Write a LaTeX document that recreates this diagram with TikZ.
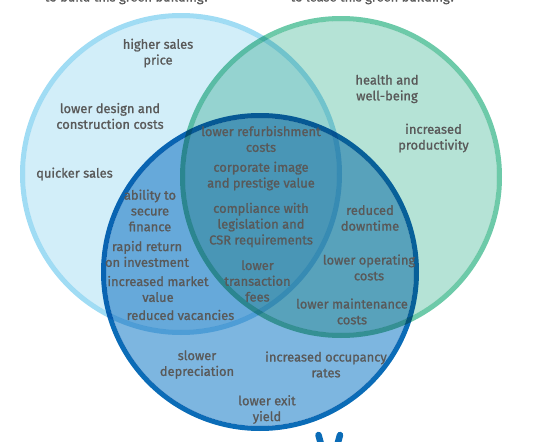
\documentclass[tikz,border=0pt]{standalone}
\usepackage{fontspec}
\newfontfamily\lbl{Fira Sans}[FakeBold=1.1]
\definecolor{lbfill}{HTML}{D2EEF9}
\definecolor{lbline}{HTML}{A0DCF4}
\definecolor{gfill}{HTML}{B5E3D6}
\definecolor{gline}{HTML}{6DCAA9}
\definecolor{dbfill}{HTML}{7DB6E0}
\definecolor{dbline}{HTML}{0B6CB7}
\definecolor{txtgray}{HTML}{595959}
\begin{document}
\begin{tikzpicture}[x=1pt,y=-1pt,
  lbl/.style={font=\lbl\fontsize{12.9}{15.8}\selectfont, text=txtgray, align=center, inner sep=0pt},
  ring/.style={line width=5pt}]
\useasboundingbox (0,0) rectangle (542,442);
\begin{scope}[blend group=multiply]
  \fill[lbfill] (181,174) circle [radius=156pt];
  \draw[lbline, ring] (181,174) circle [radius=158.5pt];
  \fill[gfill] (341,177) circle [radius=156pt];
  \draw[gline, ring] (341,177) circle [radius=158.5pt];
  \fill[dbfill] (260,272) circle [radius=154pt];
  \draw[dbline, ring] (260,272) circle [radius=156.5pt];
\end{scope}
\node[lbl, anchor=base] (tb) at (127,1.5) {to build this green building?};
\node[lbl, anchor=base] (tl) at (373,1.5) {to lease this green building?};
\node[lbl] (hsp) at (158,53) {higher sales\\price};
\node[lbl] (ldc) at (110,116) {lower design and\\construction costs};
\node[lbl] (qs) at (74.5,174) {quicker sales};
\node[lbl] (asf) at (150,210.5) {ability to\\secure\\finance};
\node[lbl] (rri) at (147,254) {rapid return\\on investment};
\node[lbl] (imv) at (158,289) {increased market\\value};
\node[lbl] (rv) at (180.5,315) {reduced vacancies};
\node[lbl] (lrc) at (261,139) {lower refurbishment\\costs};
\node[lbl] (cip) at (261,176) {corporate image\\and prestige value};
\node[lbl] (clc) at (261,225) {compliance with\\legislation and\\CSR requirements};
\node[lbl] (ltf) at (257.5,281) {lower\\transaction\\fees};
\node[lbl] (hwb) at (387,89) {health and\\well-being};
\node[lbl] (ip) at (433.5,138) {increased\\productivity};
\node[lbl] (rd) at (370,218) {reduced\\downtime};
\node[lbl] (loc) at (369,267.5) {lower operating\\costs};
\node[lbl] (lmc) at (352,311.5) {lower maintenance\\costs};
\node[lbl] (sd) at (197,364.5) {slower\\depreciation};
\node[lbl] (ioc) at (326,364.5) {increased occupancy\\rates};
\node[lbl] (lex) at (267,409.5) {lower exit\\yield};
\draw[dbline, line width=6.5pt, line cap=round] (318.5,435) -- (321.5,446);
\draw[dbline, line width=6.5pt, line cap=round] (340,435) -- (337,446);
\end{tikzpicture}
\end{document}
